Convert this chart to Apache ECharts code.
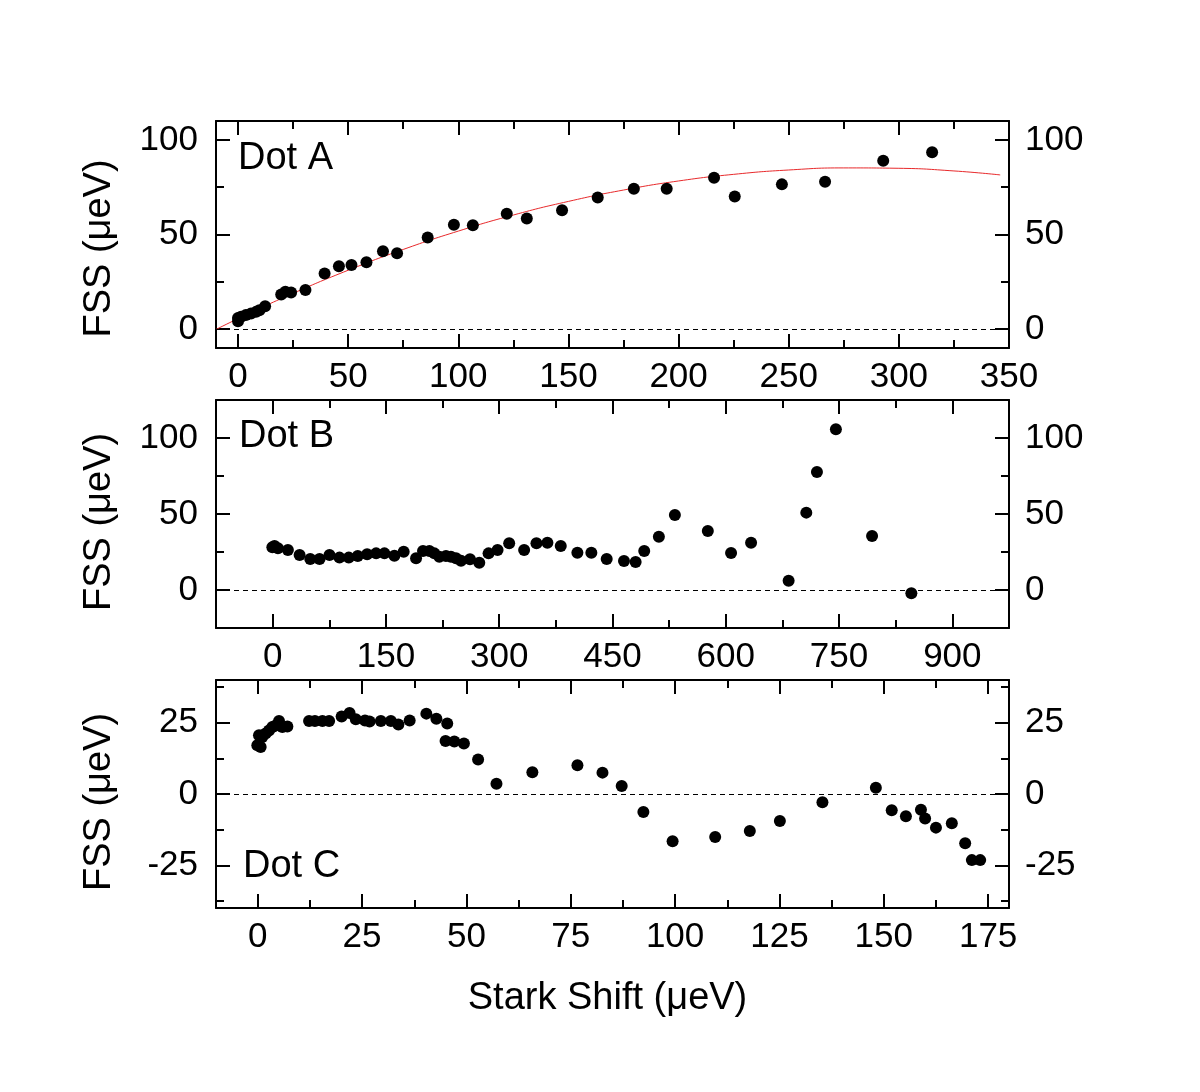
<!DOCTYPE html>
<html>
<head>
<meta charset="utf-8">
<script src="https://cdn.jsdelivr.net/npm/echarts@6/dist/echarts.min.js"></script>
<style>html,body{margin:0;padding:0;background:#fff}#c{width:1200px;height:1092px}</style>
</head>
<body>
<div id="c"></div>
<script>
// ---- Data ----
const dotA_x = [0, 0, 1.4, 3.6, 5.9, 8.2, 9.7, 12.3, 19.6, 21.5, 24.1, 30.6, 39.3, 45.8, 51.5, 58.3, 65.8, 72.2, 86.1, 98, 106.6, 122, 131.1, 147.1, 163.3, 179.7, 194.6, 216.1, 225.5, 246.9, 266.5, 292.9, 315.1];
const dotA_y = [4.2, 5.8, 6.5, 7.4, 8.3, 9.1, 10, 12.1, 18.3, 19.7, 19.3, 20.6, 29.4, 33.2, 33.9, 35.3, 41.1, 40.1, 48.4, 55.2, 54.9, 61, 58.5, 62.8, 69.6, 74.2, 74.2, 80, 70.1, 76.5, 77.9, 89, 93.5];
const fitA_x = [-10, 0, 25, 50, 75, 100, 125, 150, 175, 200, 225, 250, 275, 300, 325, 346];
const fitA_y = [-0.2, 5.5, 18.9, 31.1, 42.1, 51.8, 60.3, 67.5, 73.5, 78.3, 81.8, 84.1, 85.2, 85.0, 83.6, 81.5];

const dotB_x = [-0.4, 2.5, 7, 20.2, 35.7, 49.8, 62.1, 75.3, 88.5, 100.8, 112.7, 125.1, 137, 148, 161.2, 173.5, 189.9, 199.1, 207.5, 214.1, 220.7, 229.5, 236.1, 242.8, 249.4, 261.3, 273.6, 285.9, 297.8, 313.2, 333, 349.3, 363.8, 381.5, 403.5, 422, 442.3, 465.2, 480.6, 492, 511.4, 532.6, 576.2, 607, 633.5, 683.2, 706.6, 720.7, 745.8, 793.7, 845.7];
const dotB_y = [28.1, 29, 27.4, 26.3, 23, 20.4, 20.4, 23, 21.3, 21.3, 22.4, 23.5, 24.1, 24.1, 22.6, 25.2, 20.9, 25.7, 25.7, 24.1, 21.9, 22.4, 21.9, 20.9, 19.3, 20.2, 18, 24.1, 26.3, 30.7, 26.3, 30.7, 31.1, 28.9, 24.5, 24.5, 20.4, 19.1, 18.4, 25.7, 35.1, 49.3, 38.8, 24.3, 31.1, 6.1, 50.9, 77.6, 105.7, 35.5, -2.2];

const dotC_x = [-0.1, 0.3, 0.7, 1.1, 1.9, 2.7, 3.5, 4.3, 5.1, 5.9, 7.1, 12.3, 13.7, 15.5, 17.1, 20.1, 22, 23.5, 25.7, 26.8, 29.5, 31.9, 33.7, 36.4, 40.4, 42.8, 45.4, 45, 47.1, 49.4, 52.8, 57.2, 65.8, 76.6, 82.6, 87.2, 92.4, 99.4, 109.6, 117.9, 125.1, 135.3, 148.1, 151.9, 155.3, 158.9, 159.9, 162.5, 166.3, 169.5, 171.1, 173.1];
const dotC_y = [17.1, 20.6, 16.5, 20, 21.2, 22.3, 23.5, 24, 25.6, 23.5, 23.7, 25.6, 25.6, 25.6, 25.6, 27.2, 28.4, 26.2, 25.8, 25.4, 25.6, 25.6, 24.4, 25.8, 28.2, 26.4, 24.7, 18.6, 18.4, 17.7, 12.1, 3.6, 7.6, 10.1, 7.5, 2.8, -6.3, -16.6, -15.1, -13, -9.5, -2.9, 2.2, -5.7, -7.8, -5.5, -8.6, -11.8, -10.3, -17.3, -23.2, -23.2];

// tick values
const A_xMajor = [0, 50, 100, 150, 200, 250, 300, 350];
const A_xMinor = [25, 75, 125, 175, 225, 275, 325];
const A_yMajor = [0, 50, 100];
const A_yMinor = [25, 75];
const B_xMajor = [0, 150, 300, 450, 600, 750, 900];
const B_xMinor = [75, 225, 375, 525, 675, 825];
const B_yMajor = [0, 50, 100];
const B_yMinor = [25, 75];
const C_xMajor = [0, 25, 50, 75, 100, 125, 150, 175];
const C_xMinor = [12.5, 37.5, 62.5, 87.5, 112.5, 137.5, 162.5];
const C_yMajor = [-25, 0, 25];
const C_yMinor = [-37.5, -12.5, 12.5, 37.5];

const panelLabels = ['Dot A', 'Dot B', 'Dot C'];
const yTitle = 'FSS (\u03bceV)';
const xTitle = 'Stark Shift (\u03bceV)';

// ---- Layout / style ----
const FONT = '"Liberation Sans", Arial, sans-serif';
const TICK_FS = 35;
const grids = [
  {left: 216, width: 793, top: 121, height: 227},
  {left: 216, width: 793, top: 400, height: 228},
  {left: 216, width: 793, top: 680, height: 228}
];
const ranges = [
  {xmin: -10, xmax: 350, ymin: -10, ymax: 110, xMaj: A_xMajor, xMin: A_xMinor, yMaj: A_yMajor, yMin: A_yMinor},
  {xmin: -75, xmax: 975, ymin: -25, ymax: 125, xMaj: B_xMajor, xMin: B_xMinor, yMaj: B_yMajor, yMin: B_yMinor},
  {xmin: -10, xmax: 180, ymin: -40, ymax: 40, xMaj: C_xMajor, xMin: C_xMinor, yMaj: C_yMajor, yMin: C_yMinor}
];
// downward shift of each y-title (px), applied through padding
const yTitleShift = [14, 8, 8];

const lineStyle = {color: '#000', width: 2};
function mkAxis(gi, pos, min, max, ticks, len, showLine, showLabels, labelMargin) {
  return {
    type: 'value', gridIndex: gi, position: pos, min: min, max: max,
    axisLine: {show: showLine, onZero: false, lineStyle: lineStyle},
    axisTick: {show: true, inside: true, length: len, customValues: ticks, lineStyle: {color: '#000', width: 2}},
    axisLabel: showLabels ? {show: true, customValues: ticks, margin: labelMargin, color: '#000', fontSize: TICK_FS, fontFamily: FONT} : {show: false},
    splitLine: {show: false}, minorTick: {show: false}
  };
}

const xAxes = [], yAxes = [];
ranges.forEach((r, gi) => {
  const bx = mkAxis(gi, 'bottom', r.xmin, r.xmax, r.xMaj, 14, true, true, 12);
  if (gi === 2) {
    bx.name = xTitle; bx.nameLocation = 'middle'; bx.nameGap = 72;
    bx.nameTextStyle = {color: '#000', fontSize: 38, fontFamily: FONT, padding: [0, 10, 0, 0]};
  }
  xAxes.push(bx);
  xAxes.push(mkAxis(gi, 'bottom', r.xmin, r.xmax, r.xMin, 8, false, false));
  xAxes.push(mkAxis(gi, 'top', r.xmin, r.xmax, r.xMaj, 14, true, false));
  xAxes.push(mkAxis(gi, 'top', r.xmin, r.xmax, r.xMin, 8, false, false));

  const ly = mkAxis(gi, 'left', r.ymin, r.ymax, r.yMaj, 14, true, true, 18);
  ly.name = yTitle; ly.nameLocation = 'middle'; ly.nameGap = 97;
  ly.nameTextStyle = {color: '#000', fontSize: 38, fontFamily: FONT, padding: [0, 2 * yTitleShift[gi], 0, 0]};
  yAxes.push(ly);
  yAxes.push(mkAxis(gi, 'left', r.ymin, r.ymax, r.yMin, 8, false, false));
  yAxes.push(mkAxis(gi, 'right', r.ymin, r.ymax, r.yMaj, 14, true, true, 16));
  yAxes.push(mkAxis(gi, 'right', r.ymin, r.ymax, r.yMin, 8, false, false));
});

function zip(xs, ys) { return xs.map((x, i) => [x, ys[i]]); }
const zeroLine = {
  silent: true, symbol: 'none', label: {show: false},
  lineStyle: {color: '#000', type: [5, 4], width: 1, opacity: 1},
  data: [{yAxis: 0}]
};
const dotSets = [[dotA_x, dotA_y], [dotB_x, dotB_y], [dotC_x, dotC_y]];
const series = [];
dotSets.forEach((d, gi) => {
  series.push({
    type: 'scatter', xAxisIndex: gi * 4, yAxisIndex: gi * 4,
    data: zip(d[0], d[1]), symbolSize: 12,
    itemStyle: {color: '#000', opacity: 1}, markLine: zeroLine, z: 3
  });
});
series.push({
  type: 'line', xAxisIndex: 0, yAxisIndex: 0, data: zip(fitA_x, fitA_y),
  smooth: true, showSymbol: false, symbol: 'none',
  lineStyle: {color: '#e8292b', width: 1}, z: 2
});

const labelPos = [[238, 160], [239, 438], [243, 868]];
const graphic = panelLabels.map((t, i) => ({
  type: 'text', left: labelPos[i][0], top: labelPos[i][1] - 20,
  style: {text: t, fill: '#000', font: '38px ' + FONT}
}));

const chart = echarts.init(document.getElementById('c'), null, {renderer: 'canvas'});
chart.setOption({
  animation: false,
  backgroundColor: '#fff',
  grid: grids,
  xAxis: xAxes,
  yAxis: yAxes,
  series: series,
  graphic: graphic
});
</script>
</body>
</html>
